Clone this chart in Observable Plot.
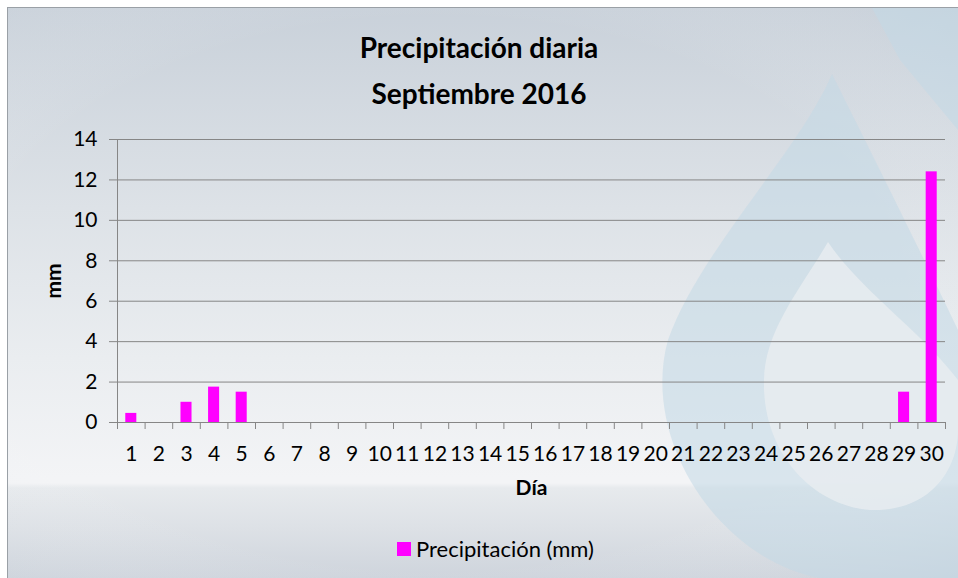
<!DOCTYPE html>
<html><head><meta charset="utf-8">
<script src="https://cdn.jsdelivr.net/npm/d3@7"></script>
<script src="https://cdn.jsdelivr.net/npm/@observablehq/plot@0.6"></script>
<style>
body{margin:0;background:#fff}
#wrap{position:relative;width:958px;height:578px;overflow:hidden;font-family:Lato,"Open Sans",sans-serif;background:#fff}
#panel{position:absolute;left:7px;top:7px;width:951px;height:571px;border-top:1px solid #9aa0a6;border-left:1px solid #9aa0a6;
 background:linear-gradient(180deg,#c9d1da 0px,#dde2e7 200px,#eaedf0 350px,#f3f4f6 470px,#f3f4f6 475px,#e7eaed 480px,#dde1e6 520px,#ced4dc 571px);}
#bg{position:absolute;left:0;top:0}
#title{position:absolute;left:0;width:958px;top:24px;text-align:center;font-weight:bold;font-size:28px;line-height:46px;color:#000}
#chart{position:absolute;left:0;top:120px}
#legend{position:absolute;top:535px;left:397px;font-size:22px;color:#000;display:flex;align-items:center;white-space:nowrap}
#legend span.sw{display:inline-block;width:14px;height:14px;background:#ff00ff;margin-right:5px}
#chart svg g[aria-label="x-axis tick label"] text, #chart svg g[aria-label="y-axis tick label"] text{font-size:21px}
</style></head>
<body>
<div id="wrap">
 <div id="panel"></div>
 <svg id="bg" width="958" height="578">
  <defs>
   <radialGradient id="vig" cx="0.45" cy="0.5" r="0.8">
     <stop offset="0.6" stop-color="#ffffff" stop-opacity="0"/>
     <stop offset="1" stop-color="#b8c3ce" stop-opacity="0.35"/>
   </radialGradient>
  </defs>
  <rect x="8" y="8" width="950" height="570" fill="url(#vig)"/>
  <path d="M832,74 C800,150 700,250 668,340 C640,440 720,560 820,578 L958,578 L958,330 C920,250 870,150 832,74 Z" fill="#c2d8e6" opacity="0.55"/>
  <path d="M828,242 C800,290 765,330 764,380 C762,450 810,505 870,510 C930,512 958,470 958,430 L958,380 C920,330 860,290 828,242 Z" fill="#e8ecf0" opacity="0.85"/>
  <path d="M872,8 L958,8 L958,130 L900,60 Z" fill="#c2d8e6" opacity="0.55"/>
 </svg>
 <div id="title">Precipitación diaria<br>Septiembre 2016</div>
 <div id="chart"></div>
 <div id="legend"><span class="sw"></span>Precipitación (mm)</div>
</div>
<script>
const days = [1,2,3,4,5,6,7,8,9,10,11,12,13,14,15,16,17,18,19,20,21,22,23,24,25,26,27,28,29,30];
const precip = [0.45,0,1.0,1.75,1.5,0,0,0,0,0,0,0,0,0,0,0,0,0,0,0,0,0,0,0,0,0,0,0,1.5,12.4];
const yTicks = [0,2,4,6,8,10,12,14];
const seriesName = "Precipitación (mm)";
const data = days.map((d,i)=>({day:d, mm:precip[i]}));
const bounds = days.map(d=>d-0.5).concat([days[days.length-1]+0.5]);

const chart = Plot.plot({
  width: 958, height: 382,
  marginLeft: 117, marginRight: 13, marginTop: 19, marginBottom: 80,
  style: {background:"transparent", color:"#000", fontFamily:"Lato, 'Open Sans', sans-serif", fontSize:"21px"},
  x: {domain:[0.5,30.5]},
  y: {domain:[0,14]},
  marks: [
    Plot.gridY(yTicks, {stroke:"#868686", strokeOpacity:1, strokeWidth:1}),
    Plot.frame({anchor:"left", stroke:"#868686"}),
    Plot.axisY({ticks:yTicks, tickSize:8, tickPadding:12, fontSize:21, label:null, stroke:"#868686"}),
    Plot.axisX({ticks:days, tickSize:0, tickPadding:24, fontSize:21, label:null, tickFormat:d=>String(d)}),
    Plot.axisX({ticks:bounds, tickSize:7, tickFormat:()=>"", label:null, stroke:"#868686"}),
    Plot.rectY(data, {x1:d=>d.day-0.2, x2:d=>d.day+0.2, y:"mm", fill:"#ff00ff"}),
    Plot.text(["mm"], {frameAnchor:"left", dx:-63, rotate:-90, textAnchor:"middle", lineAnchor:"middle", fontWeight:"bold", fontSize:21}),
    Plot.text(["Día"], {frameAnchor:"bottom", dy:66, textAnchor:"middle", lineAnchor:"middle", fontWeight:"bold", fontSize:21})
  ]
});
document.getElementById("chart").appendChild(chart);
</script>
</body></html>
